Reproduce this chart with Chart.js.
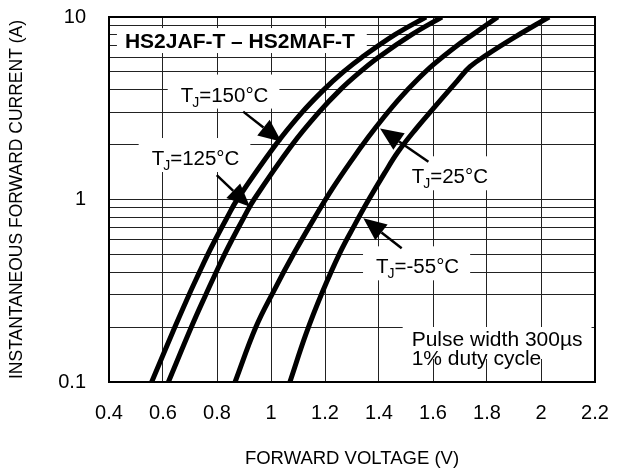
<!DOCTYPE html>
<html>
<head>
<meta charset="utf-8">
<script src="https://cdn.jsdelivr.net/npm/chart.js@4.4.1/dist/chart.umd.min.js"></script>
<style>
  body { margin: 0; background: #fff; }
  #wrap { width: 622px; height: 470px; }
</style>
</head>
<body>
<div id="wrap"><canvas id="myChart" width="622" height="470"></canvas></div>
<script>
// forward voltage (V) and current (A)
const v150 = [0.558, 0.644, 0.696, 0.735, 0.766, 0.793, 0.838, 0.875, 1.018, 1.115, 1.196, 1.268, 1.336, 1.459, 1.574]
const i150 = [0.1, 0.2, 0.3, 0.4, 0.5, 0.6, 0.8, 1, 2, 3, 4, 5, 6, 8, 10]

const v125 = [0.62, 0.705, 0.758, 0.797, 0.828, 0.855, 0.90, 0.937, 1.079, 1.177, 1.257, 1.33, 1.397, 1.521, 1.633]
const i125 = [0.1, 0.2, 0.3, 0.4, 0.5, 0.6, 0.8, 1, 2, 3, 4, 5, 6, 8, 10]

const v25 = [0.867, 0.944, 1.012, 1.085, 1.165, 1.228, 1.30, 1.36, 1.42, 1.48, 1.54, 1.60, 1.68, 1.76, 1.84]
const i25 = [0.1, 0.2, 0.319, 0.507, 0.811, 1.15, 1.65, 2.19, 2.85, 3.63, 4.5, 5.46, 6.81, 8.26, 10]

const vM55 = [1.07, 1.13, 1.19, 1.256, 1.31, 1.36, 1.42, 1.47, 1.54, 1.60, 1.69, 1.737, 1.80, 1.90, 2.03]
const iM55 = [0.1, 0.184, 0.31, 0.513, 0.726, 0.986, 1.39, 1.82, 2.47, 3.14, 4.47, 5.34, 6.22, 7.71, 10]

const xTicks = [0.4, 0.6, 0.8, 1, 1.2, 1.4, 1.6, 1.8, 2, 2.2]
const yGrid = [0.1, 0.2, 0.3, 0.4, 0.5, 0.6, 0.7, 0.8, 0.9, 1, 2, 3, 4, 5, 6, 7, 8, 9, 10]
const yLabels = [0.1, 1, 10]

const FONT = '"Liberation Sans", Arial, Helvetica, sans-serif'

const toPoints = (vs, is) => vs.map((v, k) => ({ x: v, y: is[k] }))

// text notes: left edge (V) / baseline (A), arrow tail -> tip in data units
const notes = [
    { v: 0.6656, i: 3.44, rest: '=150°C', arrow: [0.897, 3.03, 1.039, 2.07] },
    { v: 0.558, i: 1.545, rest: '=125°C', arrow: [0.799, 1.36, 0.922, 0.913] },
    { v: 1.521, i: 1.227, rest: '=25°C', arrow: [1.583, 1.61, 1.404, 2.45] },
    { v: 1.389, i: 0.394, rest: '=-55°C', arrow: [1.484, 0.54, 1.342, 0.789] }
]

const drawTj = (ctx, x, y, rest, dry) => {
    ctx.font = '20.5px ' + FONT
    let w = ctx.measureText('T').width
    if (!dry) ctx.fillText('T', x, y)
    ctx.font = '14px ' + FONT
    if (!dry) ctx.fillText('J', x + w - 1, y + 5)
    w += ctx.measureText('J').width - 1
    ctx.font = '20.5px ' + FONT
    if (!dry) ctx.fillText(rest, x + w, y)
    return w + ctx.measureText(rest).width
}

const drawArrow = (ctx, x1, y1, x2, y2) => {
    const a = Math.atan2(y2 - y1, x2 - x1)
    const hl = 23, hw = 10
    const bx = x2 - hl * Math.cos(a), by = y2 - hl * Math.sin(a)
    ctx.beginPath()
    ctx.moveTo(x1, y1)
    ctx.lineTo(bx, by)
    ctx.lineWidth = 2.5
    ctx.strokeStyle = '#000'
    ctx.stroke()
    ctx.beginPath()
    ctx.moveTo(x2, y2)
    ctx.lineTo(bx + hw * Math.sin(a), by - hw * Math.cos(a))
    ctx.lineTo(bx - hw * Math.sin(a), by + hw * Math.cos(a))
    ctx.closePath()
    ctx.fillStyle = '#000'
    ctx.fill()
}

const notesPlugin = {
    id: 'notes',
    beforeDatasetsDraw(chart) {
        const ctx = chart.ctx
        const xs = chart.scales.x, ys = chart.scales.y
        ctx.save()
        notes.forEach(n => {
            const x = xs.getPixelForValue(n.v), y = ys.getPixelForValue(n.i)
            const w = drawTj(ctx, x, y, n.rest, true)
            ctx.fillStyle = '#fff'
            ctx.fillRect(x - 13, y - 27, w + 24, 34)
        })
        ctx.fillStyle = '#fff'
        // title box
        ctx.font = 'bold 21px ' + FONT
        let tx = xs.getPixelForValue(0.459), ty = ys.getPixelForValue(6.76)
        let tw = ctx.measureText('HS2JAF-T – HS2MAF-T').width
        ctx.fillRect(tx - 8, ty - 20, tw + 20, 25)
        // pulse box
        ctx.font = '21px ' + FONT
        tx = xs.getPixelForValue(1.521); ty = ys.getPixelForValue(0.1575)
        tw = ctx.measureText('Pulse width 300µs').width
        ctx.fillRect(tx - 9, ty - 19, tw + 18, 32)
        ctx.restore()
    },
    afterDatasetsDraw(chart) {
        const ctx = chart.ctx
        const xs = chart.scales.x, ys = chart.scales.y
        const a = chart.chartArea
        ctx.save()
        ctx.textBaseline = 'alphabetic'
        ctx.textAlign = 'left'
        notes.forEach(n => {
            ctx.fillStyle = '#000'
            drawTj(ctx, xs.getPixelForValue(n.v), ys.getPixelForValue(n.i), n.rest, false)
            const [v1, i1, v2, i2] = n.arrow
            drawArrow(ctx, xs.getPixelForValue(v1), ys.getPixelForValue(i1),
                xs.getPixelForValue(v2), ys.getPixelForValue(i2))
        })
        ctx.fillStyle = '#000'
        ctx.font = 'bold 21px ' + FONT
        ctx.fillText('HS2JAF-T – HS2MAF-T', xs.getPixelForValue(0.459), ys.getPixelForValue(6.76))
        ctx.font = '21px ' + FONT
        ctx.fillText('Pulse width 300µs', xs.getPixelForValue(1.521), ys.getPixelForValue(0.1575))
        ctx.fillText('1% duty cycle', xs.getPixelForValue(1.521), ys.getPixelForValue(0.124))
        // frame
        ctx.lineWidth = 2
        ctx.strokeStyle = '#000'
        ctx.strokeRect(a.left, a.top, a.right - a.left, a.bottom - a.top)
        ctx.restore()
    }
}

const curve = (pts) => ({
    data: pts,
    borderColor: '#000',
    borderWidth: 5,
    pointRadius: 0,
    fill: false,
    tension: 0.4
})

Chart.defaults.font.family = FONT
Chart.defaults.color = '#000'

const config = {
    type: 'line',
    data: {
        datasets: [
            curve(toPoints(v150, i150)),
            curve(toPoints(v125, i125)),
            curve(toPoints(v25, i25)),
            curve(toPoints(vM55, iM55))
        ]
    },
    options: {
        responsive: false,
        animation: false,
        layout: { padding: { top: 17, right: 27, bottom: 0, left: 0 } },
        plugins: { legend: { display: false }, tooltip: { enabled: false } },
        scales: {
            x: {
                type: 'linear',
                min: 0.4,
                max: 2.2,
                afterBuildTicks: s => { s.ticks = xTicks.map(v => ({ value: v })) },
                afterFit: s => {
                    s.height = 88
                    s.paddingLeft = 0
                    s.paddingRight = 0
                },
                ticks: {
                    font: { size: 20 },
                    padding: 19,
                    autoSkip: false,
                    maxRotation: 0,
                    callback: v => String(v)
                },
                grid: { color: '#222', lineWidth: 1, drawTicks: false },
                border: { color: '#000', width: 2 },
                title: {
                    display: true,
                    text: 'FORWARD VOLTAGE (V)',
                    font: { size: 18.5 },
                    padding: { top: 0, bottom: 0 }
                }
            },
            y: {
                type: 'logarithmic',
                min: 0.1,
                max: 10,
                afterBuildTicks: s => { s.ticks = yGrid.map(v => ({ value: v })) },
                afterFit: s => {
                    s.width = 109
                    s.paddingTop = 0
                    s.paddingBottom = 0
                },
                ticks: {
                    font: { size: 20 },
                    padding: 23,
                    autoSkip: false,
                    callback: v => yLabels.includes(v) ? String(v) : ''
                },
                grid: { color: '#222', lineWidth: 1, drawTicks: false },
                border: { color: '#000', width: 2 },
                title: {
                    display: true,
                    text: 'INSTANTANEOUS FORWARD CURRENT (A)',
                    font: { size: 17.5 },
                    padding: { top: 7, bottom: 0 }
                }
            }
        }
    },
    plugins: [notesPlugin]
}

const myChart = new Chart(document.getElementById('myChart'), config)
</script>
</body>
</html>
